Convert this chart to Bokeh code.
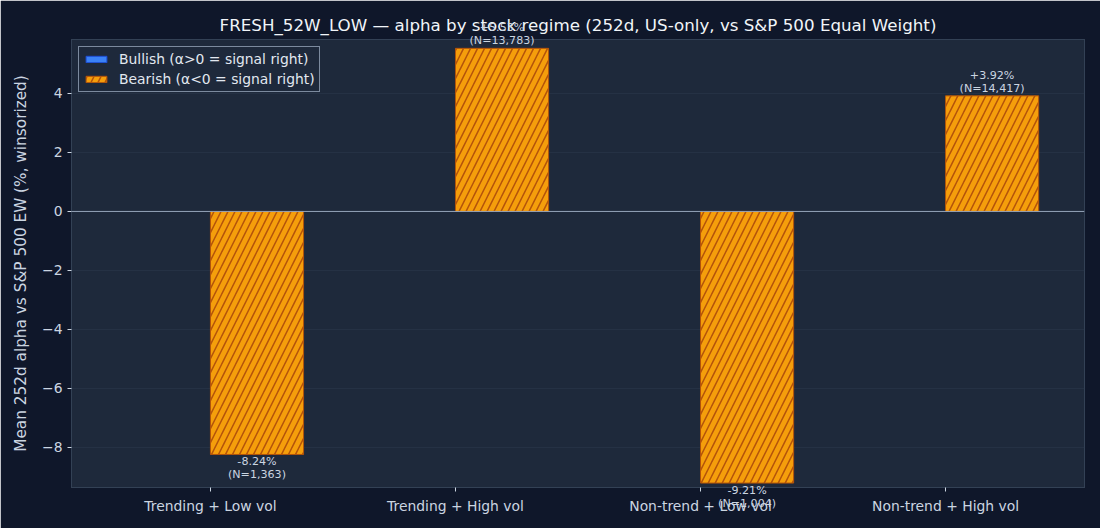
from bokeh.plotting import figure
from bokeh.layouts import column
from bokeh.models import ColumnDataSource, FixedTicker, Range1d, Span, Legend, LegendItem, GridBox
from bokeh.embed import file_html
from bokeh.resources import INLINE

categories = ["Trending + Low vol", "Trending + High vol", "Non-trend + Low vol", "Non-trend + High vol"]
bullish_vals = [float("nan")] * 4
bearish_vals = [-8.24, 5.53, -9.21, 3.92]
bearish_n = [1363, 13783, 1004, 14417]
y_ticks = [-8, -6, -4, -2, 0, 2, 4]

BG = "#0f172a"
PANEL = "#1e293b"
TXT = "#cbd5e1"
FONT = "DejaVu Sans"

W, H = 1100, 528
BL, BR, BT, BB = 71, 16, 39, 41
X0, X1 = -0.567, 3.567
Y0, Y1 = -9.36, 5.83

x = list(range(len(categories)))
bw = 0.38
src_bear = ColumnDataSource(dict(x=[i + bw / 2 for i in x], top=bearish_vals))
src_bull = ColumnDataSource(dict(x=[i - bw / 2 for i in x], top=bullish_vals))

p = figure(width=W, height=H, output_backend="svg", toolbar_location=None,
           x_range=Range1d(X0, X1), y_range=Range1d(Y0, Y1),
           min_border_left=BL, min_border_right=BR, min_border_top=BT, min_border_bottom=BB)
p.background_fill_color = PANEL
p.border_fill_color = BG
p.outline_line_color = "#334155"
p.outline_line_width = 1

p.title.text = "FRESH_52W_LOW \u2014 alpha by stock regime (252d, US-only, vs S&P 500 Equal Weight)"
p.title.align = "center"
p.title.text_color = "#f1f5f9"
p.title.text_font = FONT
p.title.text_font_size = "16.7px"
p.title.text_font_style = "normal"

p.xgrid.grid_line_color = None
p.ygrid.grid_line_color = "#334155"
p.ygrid.grid_line_alpha = 0.35
p.ygrid.ticker = FixedTicker(ticks=y_ticks)

p.xaxis.ticker = FixedTicker(ticks=x)
p.xaxis.major_label_overrides = {i: c for i, c in zip(x, categories)}
p.yaxis.ticker = FixedTicker(ticks=y_ticks)
p.yaxis.major_label_overrides = {t: ("\u2212" + str(-t) if t < 0 else str(t)) for t in y_ticks}
for ax in (p.xaxis, p.yaxis):
    ax.axis_line_color = None
    ax.major_tick_line_color = TXT
    ax.major_tick_out = 4
    ax.major_tick_in = 0
    ax.minor_tick_line_color = None
    ax.major_label_text_color = TXT
    ax.major_label_text_font = FONT
    ax.major_label_text_font_size = "13.9px"
p.xaxis.major_label_standoff = 6
p.yaxis.axis_label = "Mean 252d alpha vs S&P 500 EW (%, winsorized)"
p.yaxis.axis_label_text_color = TXT
p.yaxis.axis_label_text_font = FONT
p.yaxis.axis_label_text_font_size = "15.3px"
p.yaxis.axis_label_text_font_style = "normal"
p.yaxis.axis_label_standoff = 9

r_bull = p.vbar(x="x", top="top", bottom=0, width=bw, source=src_bull,
                fill_color="#3b82f6", line_color="#1d4ed8")
r_bear = p.vbar(x="x", top="top", bottom=0, width=bw, source=src_bear,
                fill_color="#f59e0b", line_color="#b45309", line_width=1,
                hatch_pattern="/", hatch_color="#b45309", hatch_scale=14, hatch_weight=1.5)

p.add_layout(Span(location=0, dimension="width", line_color="#94a3b8", line_width=1))

legend = Legend(items=[LegendItem(label="Bullish (\u03b1>0 = signal right)", renderers=[r_bull]),
                       LegendItem(label="Bearish (\u03b1<0 = signal right)", renderers=[r_bear])],
                location="top_left")
legend.background_fill_color = PANEL
legend.background_fill_alpha = 1
legend.border_line_color = "#94a3b8"
legend.border_line_alpha = 0.8
legend.label_text_color = "#e2e8f0"
legend.label_text_font = FONT
legend.label_text_font_size = "13.9px"
legend.glyph_width = 26
legend.glyph_height = 8
legend.label_height = 14
legend.spacing = 4
legend.padding = 4
legend.margin = 7
legend.label_standoff = 10
p.add_layout(legend)

# transparent overlay figure with the same data->screen mapping, whose frame
# covers the whole canvas, so value labels may spill past the plot area
dx = (X1 - X0) / (W - BL - BR)
dy = (Y1 - Y0) / (H - BT - BB)
ov = figure(width=W, height=H, output_backend="svg", toolbar_location=None,
            x_range=Range1d(X0 - BL * dx, X1 + BR * dx),
            y_range=Range1d(Y0 - BB * dy, Y1 + BT * dy),
            min_border=0, x_axis_location=None, y_axis_location=None)
ov.background_fill_alpha = 0
ov.border_fill_alpha = 0
ov.outline_line_color = None
ov.grid.visible = False

pos = dict(x=[], y=[], v=[], n=[])
neg = dict(x=[], y=[], v=[], n=[])
for i, (v, n) in enumerate(zip(bearish_vals, bearish_n)):
    d = pos if v >= 0 else neg
    d["x"].append(i + bw / 2)
    d["y"].append(v)
    d["v"].append(f"{v:+.2f}%")
    d["n"].append(f"(N={n:,})")
ps, ns = ColumnDataSource(pos), ColumnDataSource(neg)
common = dict(text_align="center", text_font_size="11.1px", text_color=TXT,
              text_font={"value": FONT})
ov.text(x="x", y="y", text="v", source=ps, text_baseline="bottom", y_offset=-14, **common)
ov.text(x="x", y="y", text="n", source=ps, text_baseline="bottom", y_offset=-1, **common)
ov.text(x="x", y="y", text="v", source=ns, text_baseline="top", y_offset=1, **common)
ov.text(x="x", y="y", text="n", source=ns, text_baseline="top", y_offset=14, **common)

layout = GridBox(children=[(column(p), 0, 0), (column(ov), 0, 0)])

html = file_html(layout, INLINE, "chart")
html = html.replace("<body>", f'<body style="background:{BG};margin:0;">', 1)
open("out.html", "w").write(html)
